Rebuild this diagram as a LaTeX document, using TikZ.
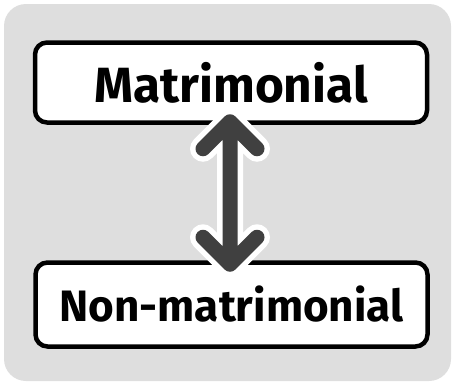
\documentclass[tikz,border=0pt]{standalone}
\usepackage{fontspec}
\setmainfont{Fira Sans}
\definecolor{bggray}{HTML}{DEDEDE}
\definecolor{arrowgray}{HTML}{404040}
\begin{document}
\begin{tikzpicture}[x=1pt,y=-1pt,
  labelbox/.style={draw=black, line width=4.5pt, fill=white, rounded corners=12pt, inner sep=0pt},
  arrowout/.style={draw=white, line width=26pt, line cap=round, line join=round},
  arrowin/.style={draw=arrowgray, line width=15pt, line cap=round, line join=round}]
\useasboundingbox (0,0) rectangle (453,383);
\fill[bggray, rounded corners=22pt] (4,4) rectangle (451,381);
\node[labelbox, minimum width=392pt, minimum height=80pt, font=\bfseries\fontsize{49.5}{58}\selectfont] (top) at (231,82.5) {Matrimonial};
\node[labelbox, minimum width=392pt, minimum height=84pt, font=\bfseries\fontsize{44}{52}\selectfont] (bot) at (231.5,304.5) {Non-matrimonial};
\coordinate (t) at ([yshift=3pt]top.south -| 230,0);
\coordinate (b) at ([yshift=-4pt]bot.north -| 230,0);
\path (t) ++(-27,27) coordinate (tl) (t) ++(27,27) coordinate (tr);
\path (b) ++(-27,-27) coordinate (bl) (b) ++(27,-27) coordinate (br);
\draw[arrowout] (t) -- (b) (tl) -- (t) -- (tr) (bl) -- (b) -- (br);
\draw[arrowin] (t) -- (b) (tl) -- (t) -- (tr) (bl) -- (b) -- (br);
\end{tikzpicture}
\end{document}
